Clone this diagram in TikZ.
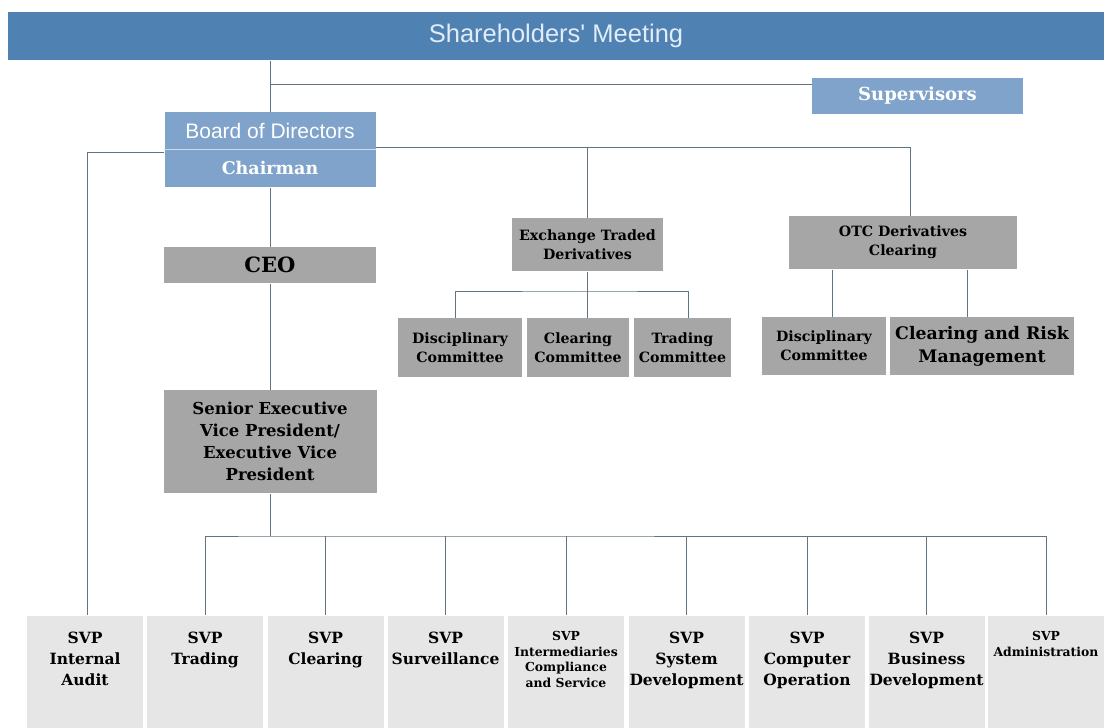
\documentclass[tikz,border=0pt]{standalone}
\usepackage{fontspec}
\usepackage{tikz}
\newfontfamily\slab{DejaVu Serif}
\newfontfamily\arial{Liberation Sans}
\definecolor{bannerblue}{RGB}{79,129,178}
\definecolor{boxblue}{RGB}{128,163,203}
\definecolor{boxgrey}{RGB}{166,166,166}
\definecolor{svpgrey}{RGB}{230,230,230}
\definecolor{linegrey}{RGB}{96,116,130}

\begin{document}
\begin{tikzpicture}[x=1pt, y=-1pt, line width=1pt,
	bluebox/.style = {fill=boxblue, text=white, minimum width=211pt, inner sep=0pt},
	greybox/.style = {fill=boxgrey, inner sep=0pt, align=center, font=\slab\bfseries\fontsize{14.2}{19}\selectfont},
	svp/.style = {fill=svpgrey, minimum width=116pt, minimum height=113pt, anchor=north, inner sep=0pt},
	svptext/.style = {anchor=north, yshift=-16pt, inner sep=0pt, align=center, font=\slab\bfseries\fontsize{15.5}{21}\selectfont},
	small/.style = {font=\slab\bfseries\fontsize{12.4}{15.5}\selectfont},
	link/.style = {draw=linegrey}]
		\useasboundingbox (0,0) rectangle (1104,728);
		\node[fill=bannerblue, minimum width=1096pt, minimum height=48pt, inner sep=0pt, text={rgb,255:red,225;green,236;blue,248}, font=\arial\fontsize{25.5}{28}\selectfont] (meeting) at (556,36) {Shareholders' Meeting};
		\node[bluebox, minimum height=36pt, font=\slab\bfseries\fontsize{18}{22}\selectfont] (sup) at (917.5,96) {Supervisors};
		\node[bluebox, minimum height=37pt, font=\arial\fontsize{21}{24}\selectfont] (board) at (270,130.5) {Board of Directors};
		\node[bluebox, minimum height=38pt, font=\slab\bfseries\fontsize{17.5}{22}\selectfont] (chair) at (270,168) {Chairman};
		\draw[white!60!boxblue, line width=1.5pt] (board.south west) -- (board.south east);
		
		\node[greybox, minimum width=212pt, minimum height=36pt, font=\slab\bfseries\fontsize{21}{24}\selectfont] (ceo) at (270,265) {CEO};
		\node[greybox, minimum width=213pt, minimum height=103pt, font=\slab\bfseries\fontsize{16.5}{22}\selectfont] (sevp) at (270,441.5) {Senior Executive\\Vice President/\\Executive Vice\\President};
		\node[greybox, minimum width=151pt, minimum height=53pt] (etd) at (587.5,244.5) {Exchange Traded\\Derivatives};
		\node[greybox, minimum width=228pt, minimum height=53pt] (otc) at (903,242.5) {OTC Derivatives\\Clearing};
		\node[greybox, minimum width=124pt, minimum height=59pt] (disc1) at (460,347.5) {Disciplinary\\Committee};
		\node[greybox, minimum width=102pt, minimum height=59pt] (clear1) at (578,347.5) {Clearing\\Committee};
		\node[greybox, minimum width=97pt, minimum height=59pt] (trade1) at (682.5,347.5) {Trading\\Committee};
		\node[greybox, minimum width=124pt, minimum height=58pt] (disc2) at (824,346) {Disciplinary\\Committee};
		\node[greybox, minimum width=184pt, minimum height=58pt, font=\slab\bfseries\fontsize{17.3}{23}\selectfont] (risk) at (982,346) {Clearing and Risk\\Management};
		
		\node[svp, label={[svptext]north:{SVP\\Internal\\Audit}}] (audit) at (85,615) {};
		\node[svp, label={[svptext]north:{SVP\\Trading}}] (trading) at (205,615) {};
		\node[svp, label={[svptext]north:{SVP\\Clearing}}] (clearing) at (325.5,615) {};
		\node[svp, label={[svptext]north:{SVP\\Surveillance}}] (surv) at (445.5,615) {};
		\node[svp, label={[svptext, small]north:{SVP\\Intermediaries\\Compliance\\and Service}}] (inter) at (566,615) {};
		\node[svp, label={[svptext]north:{SVP\\System\\Development}}] (sysdev) at (686.5,615) {};
		\node[svp, label={[svptext]north:{SVP\\Computer\\Operation}}] (compop) at (807,615) {};
		\node[svp, label={[svptext]north:{SVP\\Business\\Development}}] (busdev) at (926.5,615) {};
		\node[svp, label={[svptext, small]north:{SVP\\Administration}}] (admin) at (1046,615) {};
		
		\coordinate (supj) at (270,84);
		\coordinate (leftj) at (87,152);
		\coordinate (rightj) at (910,147);
		\coordinate (etdj) at (587.5,291);
		\coordinate (busj) at (270,536);
		
		\draw[link] (meeting.south -| board.north) -- (board.north);
		\draw[link] (supj) -- (supj -| sup.west);
		\draw[link] (chair.west |- leftj) -- (leftj) -- (leftj |- audit.north);
		\draw[link] (board.east |- rightj) -- (rightj) -- (rightj |- otc.north);
		\draw[link] (etd.north |- rightj) -- (etd.north);
		\draw[link] (chair.south) -- (ceo.north);
		\draw[link] (ceo.south) -- (sevp.north);
		\draw[link] (etd.south) -- (etd.south |- clear1.north);
		\draw[link] (disc1.north -| 455,0) |- (etdj) -| (trade1.north -| 688,0);
		\draw[link] (otc.south -| 832,0) -- (disc2.north -| 832,0);
		\draw[link] (otc.south -| 967,0) -- (risk.north -| 967,0);
		\draw[link] (sevp.south) -- (busj);
		\draw[link] (trading.north) |- (busj) -| (admin.north);
		\draw[link] (clearing.north) -- (clearing.north |- busj);
		\draw[link] (surv.north) -- (surv.north |- busj);
		\draw[link] (inter.north) -- (inter.north |- busj);
		\draw[link] (sysdev.north) -- (sysdev.north |- busj);
		\draw[link] (compop.north) -- (compop.north |- busj);
		\draw[link] (busdev.north) -- (busdev.north |- busj);
	\end{tikzpicture}
\end{document}
